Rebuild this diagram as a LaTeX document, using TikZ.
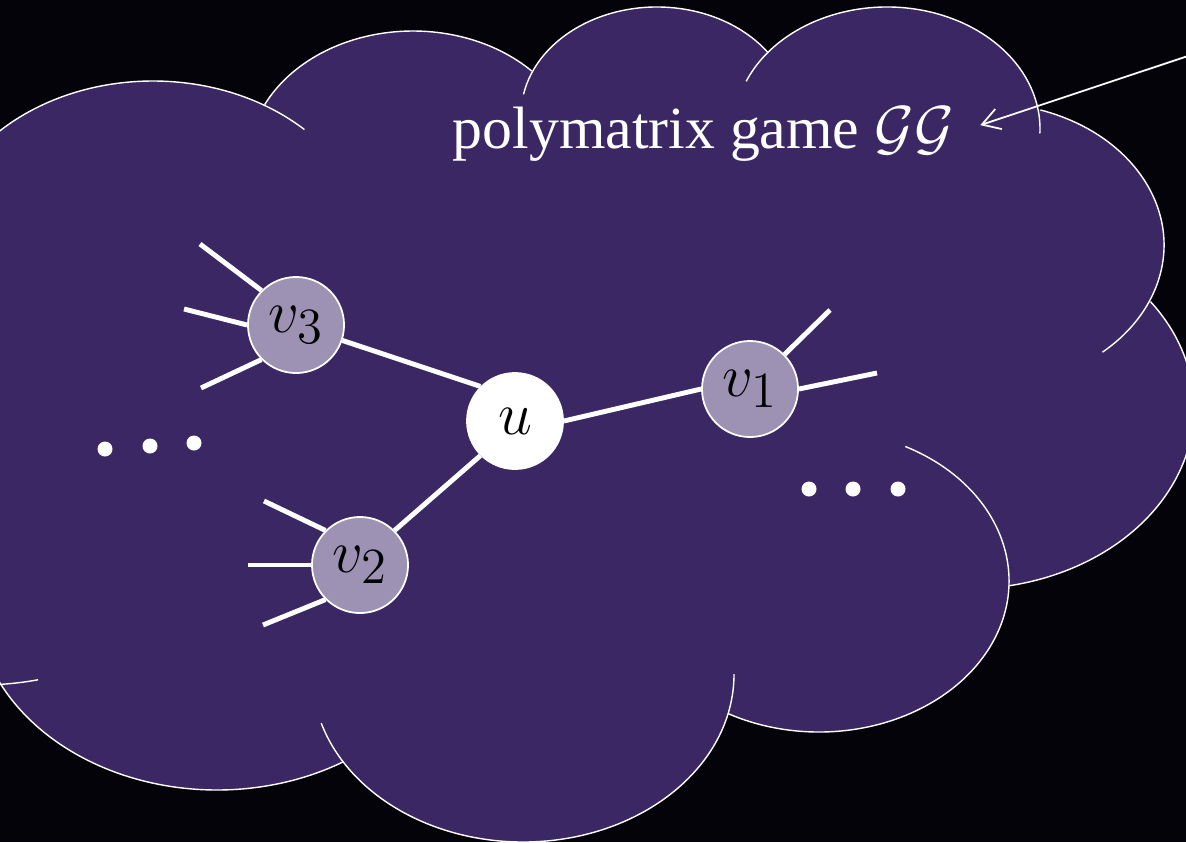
\documentclass[tikz,border=0pt]{standalone}
\usepackage[no-math]{fontspec}
\setmainfont{Liberation Serif}
\usepackage{tikz}
\usetikzlibrary{arrows.meta}
\definecolor{nightblack}{RGB}{4, 3, 10}
\definecolor{cloudpurple}{RGB}{59, 39, 99}
\definecolor{playergray}{RGB}{157, 146, 180}

\tikzset{
  player/.style={circle, draw=white, line width=0.5pt, fill=playergray, minimum size=0.96cm, inner sep=0pt, font=\fontsize{19}{22}\selectfont},
  hub/.style={player, fill=white},
  link/.style={white, line width=1.4pt},
  puff/.style={white, line width=0.4pt},
}

\begin{document}
\begin{tikzpicture}[x=0.01cm, y=-0.01cm]
\useasboundingbox (0,0) rectangle (1186,842);
\fill[nightblack] (0,0) rectangle (1186,842);
\clip (0,0) rectangle (1186,842);

% cloud body
\foreach \cx/\cy/\rx/\ry in {153/254/218/173, 413/162/165/131, 657/115/136/108, 887/129/153/122,
    985/245/179/142, 966/408/228/181, 819/581/190/151, 523/674/211/168, 217/598/242/192, -20/480/258/205}
  \fill[cloudpurple] (\cx,\cy) ellipse [x radius=\rx, y radius=\ry];
\fill[cloudpurple] (0,137) -- (265,104) -- (533,71) -- (768,52) -- (1040,110) -- (1150,302)
  -- (1010,586) -- (728,714) -- (343,762) -- (3,687) -- cycle;

% cloud outline, one arc per puff
\foreach \cx/\cy/\rx/\ry/\ta/\tb in {153/254/218/173/-150/-46, 413/162/165/131/-154/-44,
    657/115/136/108/-169/-35.5, 887/129/153/122/-157/2, 985/245/179/142/-72/49,
    966/408/228/181/-36/79, 819/581/190/151/-63/118.5, 523/674/211/168/0/163,
    217/598/242/192/58.6/160, -20/480/258/205/77/100}
  \draw[puff] ({\cx+\rx*cos(\ta)},{\cy+\ry*sin(\ta)}) arc[start angle=\ta, end angle=\tb, x radius=\rx, y radius=\ry];

\node[anchor=base west, inner sep=0pt, text=white, font=\fontsize{17}{20}\selectfont] (title) at (452,148) {polymatrix game $\mathcal{GG}$};
\coordinate (pointer) at (1200,52);
\draw[white, line width=0.5pt, -{Straight Barb[length=5pt, width=6pt]}, shorten >=0.27cm] (pointer) -- (title.east);

\node[hub] (u) at (515,421) {$u$};
\node[player] (v1) at (750,389) {$v_1$};
\node[player] (v2) at (360,565) {$v_2$};
\node[player] (v3) at (296,325) {$v_3$};

\draw[link] (u.east) -- (v1.west);
\draw[link] (u.south west) -- (v2.north east);
\draw[link] (u.north west) -- (v3);

\coordinate (v1a) at (830,310);
\coordinate (v1b) at (877,373);
\coordinate (v2a) at (264,501);
\coordinate (v2b) at (248,565);
\coordinate (v2c) at (263,625);
\coordinate (v3a) at (200,244);
\coordinate (v3b) at (184,309);
\coordinate (v3c) at (201,388);
\draw[link] (v1.north east) -- (v1a);
\draw[link] (v1.east) -- (v1b);
\draw[link] (v2.north west) -- (v2a);
\draw[link] (v2.west) -- (v2b);
\draw[link] (v2.south west) -- (v2c);
\draw[link] (v3.north west) -- (v3a);
\draw[link] (v3.west) -- (v3b);
\draw[link] (v3.south west) -- (v3c);

% more players off to the sides
\foreach \x/\y in {105/449, 150/446, 194/443, 809/489, 853/489, 898/489}
  \fill[white] (\x,\y) circle [radius=7.5];
\end{tikzpicture}
\end{document}
